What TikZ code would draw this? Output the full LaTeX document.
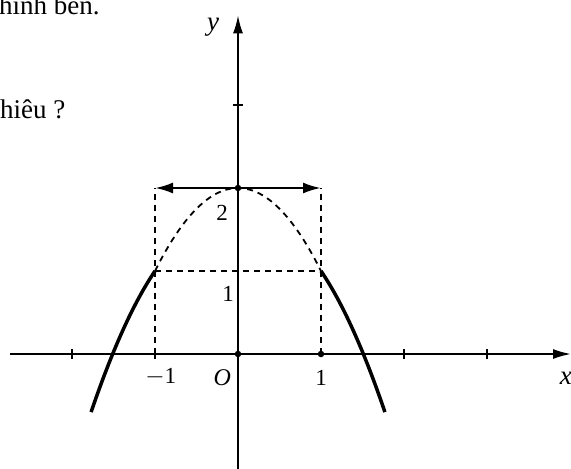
\documentclass[tikz,border=0pt]{standalone}
\usepackage{fontspec}
\setmainfont{Liberation Serif}
\usetikzlibrary{arrows.meta}
\begin{document}
\begin{tikzpicture}[x=83pt,y=83pt,
  axisline/.style={line width=1.8pt,-{Latex[length=18pt,width=10pt]}},
  guide/.style={line width=1.8pt,dash pattern=on 6pt off 5pt},
  graphline/.style={line width=3.5pt},
  tickmark/.style={line width=1.8pt},
  dotmark/.style={circle,fill,inner sep=0pt,minimum size=6.5pt},
  lbl/.style={font=\fontsize{23}{23}\selectfont,inner sep=0pt},
  vlbl/.style={font=\fontsize{27}{27}\selectfont\itshape,inner sep=0pt},
  txt/.style={font=\fontsize{27}{27}\selectfont,inner sep=0pt,anchor=base west}]
\useasboundingbox (-2.8675,-1.3735) rectangle (4.0120,4.2651);
% coordinates
\coordinate (O) at (0,0);
\coordinate (xl) at (-2.75,0);
\coordinate (xr) at (4.012,0);
\coordinate (yb) at (0,-1.38);
\coordinate (yt) at (0,4.08);
\coordinate (A) at (-1,1);
\coordinate (B) at (1,1);
\coordinate (At) at (-1,2);
\coordinate (Bt) at (1,2);
\coordinate (Ab) at (-1,0);
\coordinate (Bb) at (1,0);
\coordinate (T) at (0,2);
% text
\node[txt] (t1) at (-2.880,4.096) {hình bên.};
\node[txt] (t2) at (-2.8675,2.843) {hiêu ?};
% axes
\draw[axisline] (xl) -- (xr);
\draw[axisline] (yb) -- (yt);
% ticks
\foreach \t in {-2,-1,2,3} \draw[tickmark] (\t,-0.055) -- (\t,0.055);
\draw[tickmark] (-0.055,3) -- (0.055,3);
% guides
\draw[guide] (Ab) -- (At);
\draw[guide] (Bb) -- (Bt);
\draw[guide] (A) -- (B);
\draw[guide] plot[domain=-1:1,samples=40,smooth] (\x,{2-\x*\x});
% double arrow
\draw[line width=2.4pt,{Latex[length=18pt,width=11pt]}-{Latex[length=18pt,width=11pt]}] (At) -- (Bt);
% graph
\draw[graphline] plot[domain=1:1.77,samples=30,smooth] (\x,{1-1.476*(\x-1)-0.95*(\x-1)*(\x-1)});
\draw[graphline] plot[domain=1:1.77,samples=30,smooth] (-\x,{1-1.476*(\x-1)-0.95*(\x-1)*(\x-1)});
% dots
\node[dotmark] (d0) at (O) {};
\node[dotmark] (d1) at (Bb) {};
\node[dotmark] (d2) at (T) {};
% labels
\node[vlbl] (ylab) at (-0.30,3.94) {y};
\node[vlbl] (xlab) at (3.95,-0.29) {x};
\node[lbl,font=\fontsize{24}{24}\selectfont\itshape] (olab) at (-0.19,-0.29) {O};
\node[lbl] (m1) at (-0.93,-0.28) {$-$1};
\node[lbl] (p1) at (1.0,-0.29) {1};
\node[lbl] (y2) at (-0.19,1.70) {2};
\node[lbl] (y1) at (-0.12,0.73) {1};
\end{tikzpicture}
\end{document}
